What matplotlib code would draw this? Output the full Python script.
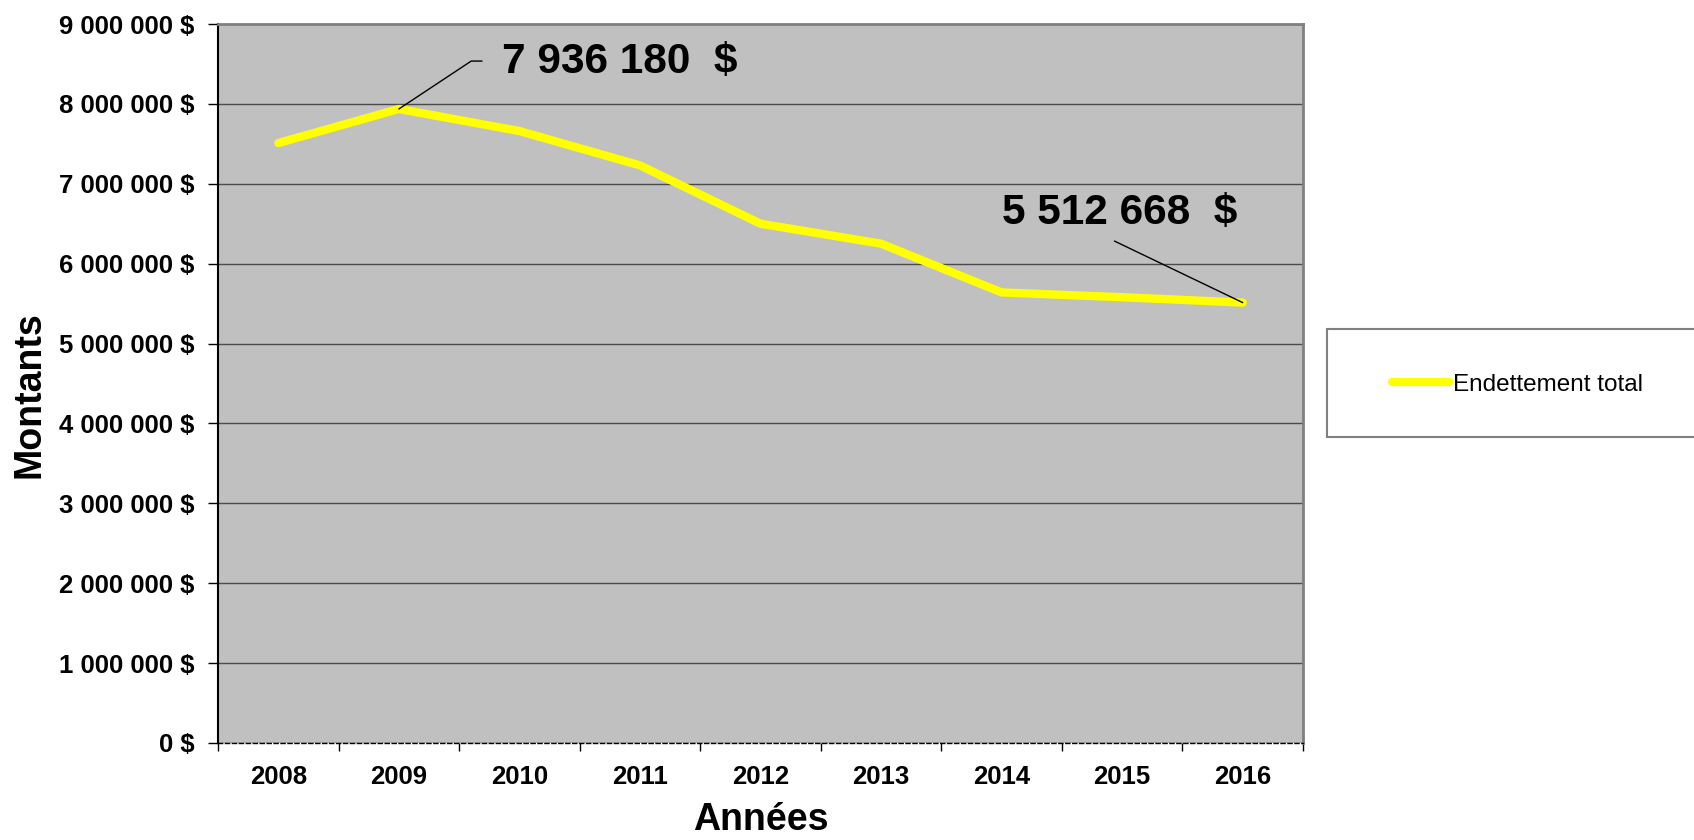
import matplotlib
matplotlib.use('Agg')
import matplotlib.pyplot as plt
from matplotlib.patches import Rectangle
from matplotlib.ticker import FixedLocator, FuncFormatter

plt.rcParams['font.family'] = ['Liberation Sans', 'DejaVu Sans']

annees = ['2008', '2009', '2010', '2011', '2012', '2013', '2014', '2015', '2016']
endettement = [7510000, 7936180, 7660000, 7230000, 6500000, 6250000, 5640000, 5580000, 5512668]
serie = 'Endettement total'
y_ticks = [0, 1000000, 2000000, 3000000, 4000000, 5000000, 6000000, 7000000, 8000000, 9000000]


def fmt_dollar(v, pos=None):
    return f'{int(v):,}'.replace(',', ' ') + ' $'


fig = plt.figure(figsize=(16.94, 8.4), dpi=100)

# legend box, running past the right edge (drawn first, below everything)
fig.patches.append(Rectangle((1327 / 1694, 1 - 437 / 840), 0.3, 108 / 840,
                             transform=fig.transFigure, facecolor='white',
                             edgecolor='#808080', lw=1.5, zorder=-5))

ax = fig.add_axes([218 / 1694, 1 - 743 / 840, 1085 / 1694, 719 / 840])
ax.set_facecolor('#c0c0c0')

x = list(range(len(annees)))
ax.plot(x, endettement, color='#ffff00', lw=6, solid_capstyle='round',
        solid_joinstyle='round', label=serie, zorder=3)

ax.set_xlim(-0.5, len(annees) - 0.5)
ax.set_ylim(y_ticks[0], y_ticks[-1])

# y axis
ax.set_yticks(y_ticks)
ax.yaxis.set_major_formatter(FuncFormatter(fmt_dollar))
ax.tick_params(axis='y', direction='out', length=7, width=1, pad=10,
               labelsize=18.5)
for t in ax.get_yticklabels():
    t.set_fontweight('bold')
ax.grid(axis='y', color='#4a4a4a', lw=1)
ax.set_axisbelow(True)

# x axis: ticks between categories, labels at centers
ax.xaxis.set_major_locator(FixedLocator([i - 0.5 for i in range(len(annees) + 1)]))
ax.xaxis.set_minor_locator(FixedLocator(x))
ax.set_xticklabels([])
ax.set_xticklabels(annees, minor=True, fontsize=18.5, fontweight='bold')
ax.tick_params(axis='x', which='major', direction='out', length=6, width=1)
ax.tick_params(axis='x', which='minor', length=0, pad=16)

for s in ['top', 'right']:
    ax.spines[s].set_color('#808080')
    ax.spines[s].set_linewidth(2)
ax.spines['left'].set_color('black')
ax.spines['left'].set_linewidth(1.5)
ax.spines['bottom'].set_color('black')
ax.spines['bottom'].set_linewidth(1)
ax.spines['bottom'].set_linestyle((0, (3, 2)))

ax.set_ylabel('Montants', fontsize=27, fontweight='bold', va='center')
ax.yaxis.set_label_coords(-0.174, 0.484)
ax.set_xlabel('Années', fontsize=27, fontweight='bold', va='center')
ax.xaxis.set_label_coords(0.5, -0.107)

# annotations: max (2009) and last (2016)
i_max = endettement.index(max(endettement))
ax.annotate('', xy=(i_max, endettement[i_max]), xytext=(1.69, 8536000),
            arrowprops=dict(arrowstyle='-', color='black', lw=1,
                            shrinkA=0, shrinkB=0,
                            connectionstyle='angle,angleA=0,angleB=33.5,rad=0'))
ax.text(1.857, 8530000, fmt_dollar(endettement[i_max]).replace(' $', '  $'),
        fontsize=30.5, fontweight='bold', ha='left', va='center')

i_last = len(endettement) - 1
ax.annotate('', xy=(i_last, endettement[i_last]), xytext=(6.936, 6283000),
            arrowprops=dict(arrowstyle='-', color='black', lw=1,
                            shrinkA=0, shrinkB=0))
ax.text(6.006, 6633000, fmt_dollar(endettement[i_last]).replace(' $', '  $'),
        fontsize=30.5, fontweight='bold', ha='left', va='center')

leg = ax.legend(loc='center left', bbox_to_anchor=(1392 / 1694, 1 - 385 / 840),
                bbox_transform=fig.transFigure, frameon=False, fontsize=17.5,
                handlelength=2.35, handletextpad=0.15, borderpad=0,
                borderaxespad=0)
leg.set_zorder(10)

fig.savefig('out.png', dpi=100)
